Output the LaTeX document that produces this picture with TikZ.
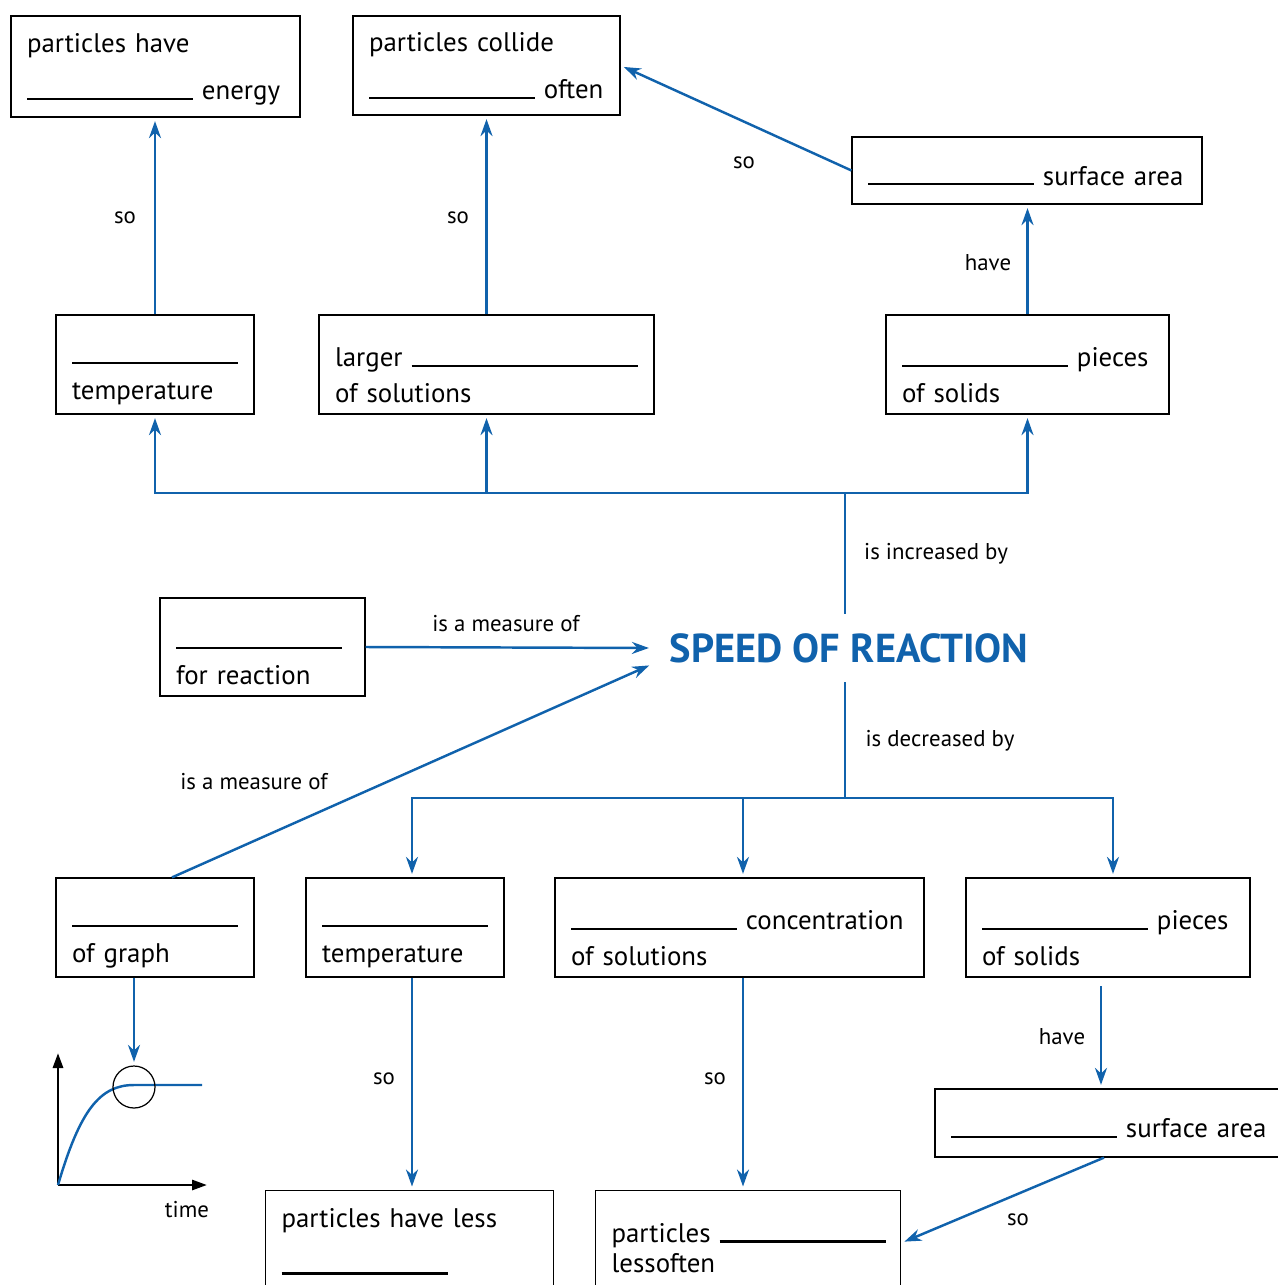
\documentclass[tikz,border=0pt]{standalone}
\usepackage{fontspec}
\setmainfont{PT Sans}
\definecolor{rateblue}{RGB}{16, 98, 172}
\usetikzlibrary{arrows.meta, positioning}
\newcommand{\fillin}[1][3.32cm]{\strut\rule{#1}{1.3pt}}
\newcommand{\topstrut}{\rule{0pt}{23pt}}

\begin{document}
\begin{tikzpicture}[x=0.02cm, y=-0.02cm,
  box/.style={draw=black, line width=0.7pt, align=left, inner xsep=0.32cm, font=\fontsize{15.3}{20}\selectfont},
  flow/.style={draw=rateblue, line width=1.4pt, -{Stealth[length=0.34cm, width=0.24cm]}, shorten >=2pt},
  trunk/.style={draw=rateblue, line width=1.4pt},
  lbl/.style={font=\fontsize{13}{15}\selectfont}]
  \useasboundingbox (0,0) rectangle (1278,1285);
  \clip (0,0) rectangle (1278,1285);

  % Top row
  \node[box, text width=5.14cm, minimum height=2.02cm, inner ysep=1pt] (energy) at (155.5,66.5) {\rule{0pt}{17pt}particles have\\[7pt]\fillin~energy};
  \node[box, text width=4.70cm, minimum height=1.98cm, inner ysep=1pt] (often) at (486.5,65.5) {\rule{0pt}{17pt}particles collide\\[7pt]\fillin~often};
  \node[box, text width=6.36cm, minimum height=1.34cm] (surftop) at (1027,170.5) {\topstrut\fillin~surface~area};

  % Increased by
  \node[box, text width=3.32cm, minimum height=1.98cm] (temptop) at (155,364.5) {\topstrut\fillin\\temperature};
  \node[box, text width=6.06cm, minimum height=1.98cm] (larger) at (486.5,364.5) {\topstrut larger~\fillin[4.52cm]\\of solutions};
  \node[box, text width=5.02cm, minimum height=1.98cm] (piecestop) at (1027.5,364.5) {\topstrut\fillin~pieces\\of solids};

  \draw[flow] (temptop.north) -- (temptop.north |- energy.south);
  \draw[flow] (larger.north) -- (larger.north |- often.south);
  \draw[flow] (surftop.west) -- (often.east);
  \draw[flow] (piecestop.north) -- (piecestop.north |- surftop.south);
  \node[lbl] (so1) at (125,218) {so};
  \node[lbl] (so2) at (458,218) {so};
  \node[lbl] (so3) at (744,163) {so};
  \node[lbl] (have1) at (988,263) {have};

  % Centre
  \node[font=\bfseries\fontsize{23}{27}\selectfont, text=rateblue, inner xsep=0.34cm, inner ysep=0pt, minimum height=1.36cm] (speed) at (849,648) {SPEED OF REACTION};
  \node[box, text width=3.46cm, minimum height=1.96cm] (reaction) at (262.5,647) {\topstrut\fillin\\for reaction};

  \coordinate (rise) at (845,493);
  \draw[trunk] (speed.north -| rise) -- (rise);
  \draw[flow] (rise) -| (temptop.south);
  \draw[flow] (rise) -| (piecestop.south);
  \draw[flow] (larger.south |- rise) -- (larger.south);
  \node[lbl] (inc) at (936,554) {is increased by};

  \draw[flow] (reaction.east) -- (speed.west);
  \node[lbl] (meas1) at (506,624) {is a measure of};

  % Decreased by
  \node[box, text width=3.32cm, minimum height=1.98cm] (graph) at (155,927.5) {\topstrut\fillin\\of graph};
  \node[box, text width=3.32cm, minimum height=1.98cm] (tempbot) at (405,927.5) {\topstrut\fillin\\temperature};
  \node[box, text width=6.74cm, minimum height=1.98cm] (conc) at (739.5,927.5) {\topstrut\fillin~concentration\\of solutions};
  \node[box, text width=5.04cm, minimum height=1.98cm] (piecesbot) at (1108,927.5) {\topstrut\fillin~pieces\\of solids};

  \draw[flow] ([xshift=0.34cm]graph.north) -- ([yshift=-0.32cm]speed.west);
  \node[lbl] (meas2) at (254,782) {is a measure of};

  \coordinate (fall) at (845,798);
  \draw[trunk] (speed.south -| fall) -- (fall);
  \draw[flow] (fall) -| ([xshift=0.14cm]tempbot.north);
  \draw[flow] (fall) -| ([xshift=0.1cm]piecesbot.north);
  \draw[flow] ([xshift=0.07cm]conc.north |- fall) -- ([xshift=0.07cm]conc.north);
  \node[lbl] (dec) at (940,741) {is decreased by};

  % Bottom row
  \node[box, text width=6.60cm, minimum height=1.36cm] (surfbot) at (1116,1123) {\topstrut\fillin~surface~area};
  \node[box, text width=5.12cm, inner ysep=0.35cm, anchor=north west] (less) at (265,1190) {particles have less\\[7pt]\fillin\\\mbox{}};
  \node[box, text width=5.46cm, inner ysep=0.55cm, anchor=north west] (lessoften) at (595,1190) {particles~\fillin\\[-3pt]lessoften\\\mbox{}};

  \draw[flow] ([xshift=0.14cm]tempbot.south) -- ([xshift=0.14cm]tempbot.south |- less.north);
  \draw[flow] ([xshift=0.07cm]conc.south) -- ([xshift=0.07cm]conc.south |- lessoften.north);
  \draw[flow, shorten <=5pt] ([xshift=-0.3cm]surfbot.north |- piecesbot.south) -- ([xshift=-0.3cm]surfbot.north);
  \draw[flow] ([xshift=-0.24cm]surfbot.south) -- ([yshift=-1.06cm]lessoften.north east);
  \node[lbl] (so4) at (384,1079) {so};
  \node[lbl] (so5) at (715,1079) {so};
  \node[lbl] (have2) at (1062,1037) {have};
  \node[lbl] (so6) at (1018,1220) {so};

  % Graph
  \coordinate (origin) at (58,1185);
  \draw[line width=1.6pt, -{Triangle[length=0.3cm, width=0.2cm]}] (origin) -- (58,1053);
  \draw[line width=1.6pt, -{Triangle[length=0.3cm, width=0.2cm]}] (origin) -- (207,1185);
  \draw[rateblue, line width=1.4pt] (origin) .. controls (80,1110) and (100,1085) .. (134,1085) -- (202,1085);
  \node[circle, draw, line width=0.7pt, minimum size=0.84cm, inner sep=0pt] (peak) at (134,1087) {};
  \draw[flow] (graph.south -| peak) -- (peak.north);
  \node[lbl] (time) at (187,1210) {time};
\end{tikzpicture}
\end{document}
